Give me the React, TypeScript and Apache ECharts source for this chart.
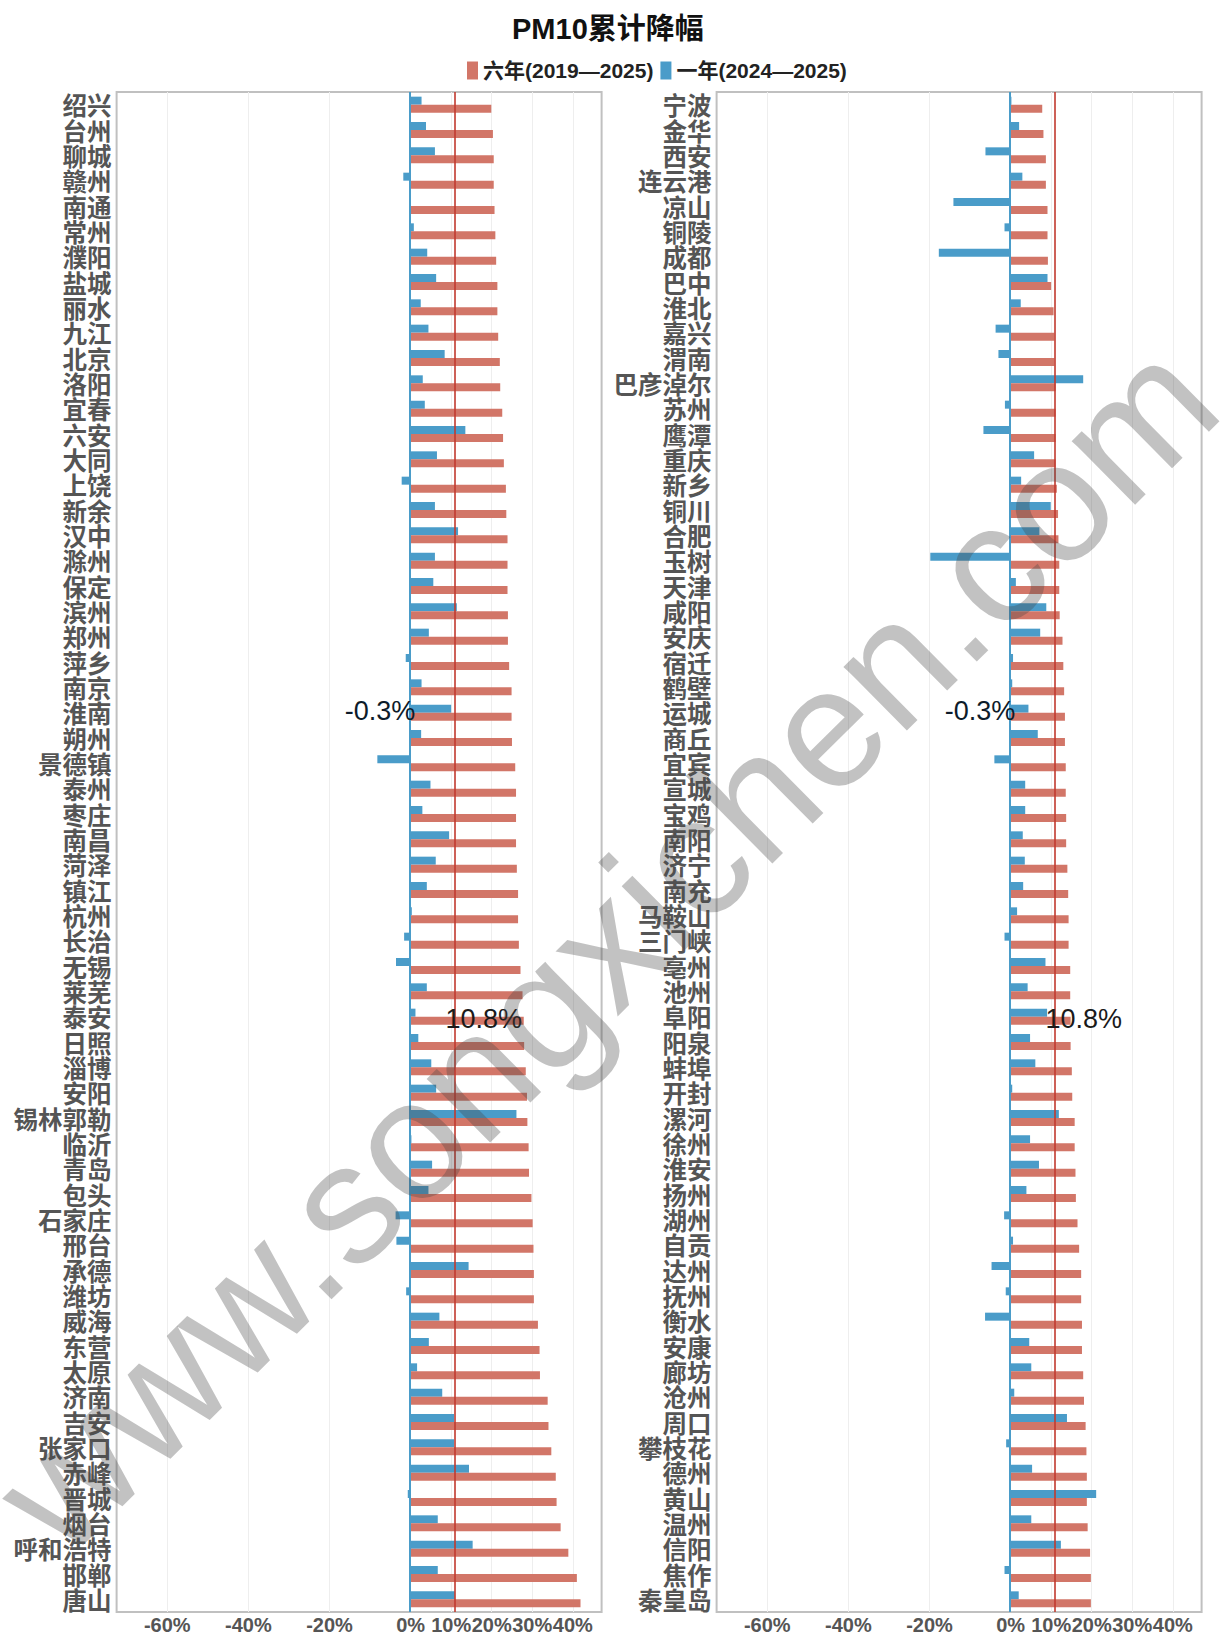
import React, { useEffect, useRef } from 'react';
import * as echarts from 'echarts';

const leftCities = ['绍兴','台州','聊城','赣州','南通','常州','濮阳','盐城','丽水','九江','北京','洛阳','宜春','六安','大同','上饶','新余','汉中','滁州','保定','滨州','郑州','萍乡','南京','淮南','朔州','景德镇','泰州','枣庄','南昌','菏泽','镇江','杭州','长治','无锡','莱芜','泰安','日照','淄博','安阳','锡林郭勒','临沂','青岛','包头','石家庄','邢台','承德','潍坊','威海','东营','太原','济南','吉安','张家口','赤峰','晋城','烟台','呼和浩特','邯郸','唐山'];
const leftSix = [19.9,20.3,20.5,20.5,20.7,20.9,21.1,21.4,21.4,21.6,22.0,22.1,22.6,22.8,23.0,23.5,23.6,23.9,23.9,23.9,24.0,24.0,24.3,24.9,24.9,25.0,25.8,26.0,26.0,26.0,26.2,26.5,26.5,26.7,27.1,27.6,27.9,28.0,28.4,28.7,28.8,29.1,29.2,29.8,30.1,30.3,30.4,30.4,31.4,31.8,31.9,33.8,34.0,34.7,35.8,36.0,37.0,38.9,41.0,41.9];
const leftOne = [2.7,3.8,6.0,-1.8,0.1,0.8,4.1,6.3,2.5,4.4,8.4,3.0,3.5,13.5,6.5,-2.2,6.0,11.7,6.0,5.6,11.4,4.5,-1.2,2.7,10.0,2.6,-8.2,4.9,2.9,9.5,6.2,4.0,0.3,-1.6,-3.6,4.0,1.2,1.9,5.1,6.3,26.1,0.2,5.3,4.4,-3.7,-3.5,14.3,-1.1,7.1,4.5,1.6,7.8,10.7,10.7,14.4,-0.7,6.7,15.3,6.7,10.9];

const rightCities = ['宁波','金华','西安','连云港','凉山','铜陵','成都','巴中','淮北','嘉兴','渭南','巴彦淖尔','苏州','鹰潭','重庆','新乡','铜川','合肥','玉树','天津','咸阳','安庆','宿迁','鹤壁','运城','商丘','宜宾','宣城','宝鸡','南阳','济宁','南充','马鞍山','三门峡','亳州','池州','阜阳','阳泉','蚌埠','开封','漯河','徐州','淮安','扬州','湖州','自贡','达州','抚州','衡水','安康','廊坊','沧州','周口','攀枝花','德州','黄山','温州','信阳','焦作','秦皇岛'];
const rightSix = [7.8,8.1,8.7,8.7,9.1,9.1,9.2,10.0,10.6,10.8,10.8,11.1,11.1,11.1,11.1,11.4,11.7,11.8,12.0,12.0,12.1,12.8,13.0,13.2,13.4,13.4,13.6,13.6,13.7,13.7,14.0,14.2,14.3,14.3,14.7,14.7,14.8,14.8,15.1,15.2,15.8,15.8,16.0,16.1,16.5,16.9,17.4,17.4,17.6,17.6,17.9,18.1,18.5,18.7,18.8,18.8,19.0,19.6,19.8,19.8];
const rightOne = [0.2,2.1,-6.2,2.9,-14.1,-1.5,-17.7,9.1,2.5,-3.7,-3.0,17.9,-1.4,-6.7,5.8,2.6,9.9,7.1,-19.8,1.3,8.8,7.3,0.6,0.4,4.4,6.7,-4.0,3.6,3.6,3.0,3.5,3.1,1.6,-1.5,8.6,4.2,9.0,4.8,6.1,0.4,11.9,4.8,7.0,3.9,-1.6,0.6,-4.7,-1.2,-6.3,4.6,5.1,0.9,13.9,-1.1,5.3,21.1,5.1,12.4,-1.5,2.0];

const xTickValues = [-60, -40, -20, 0, 10, 20, 30, 40];
const sixName = '六年(2019—2025)';
const oneName = '一年(2024—2025)';
const sixAvg = 10.8;
const oneAvg = -0.3;
const oneLabelRow = 24;
const sixLabelRow = 36;
const titleText = 'PM10累计降幅';
const watermark = 'www.songxichen.com';

const RED = '#d27668';
const BLUE = '#4a9cc9';

export default function App() {
  const ref = useRef<HTMLDivElement>(null);
  useEffect(() => {
    const chart = echarts.init(ref.current!, null, { renderer: 'svg' });
    const latin = "'Liberation Sans', 'Noto Sans CJK SC', sans-serif";
    const grids = [
      { left: 116.6, top: 92, width: 485, height: 1520 },
      { left: 716.6, top: 92, width: 485, height: 1520 },
    ].map((g) => ({ ...g, containLabel: false, outerBoundsMode: 'none', show: true, borderColor: '#c0c0c0', borderWidth: 2 }));

    const makeX = (gridIndex: number) => ({
      type: 'value', gridIndex, min: -72.5, max: 47.1,
      axisLine: { show: false },
      axisTick: { show: false, customValues: xTickValues },
      axisLabel: {
        customValues: xTickValues, formatter: (v: number) => `${v}%`,
        fontSize: 20, fontWeight: 'bold', color: '#555', fontFamily: latin, margin: 3,
        hideOverlap: false, showMinLabel: true, showMaxLabel: true,
      },
      splitLine: { show: true, lineStyle: { color: '#eeeeee', width: 1 } },
    });
    const makeY = (gridIndex: number, data: string[]) => ({
      type: 'category', gridIndex, data, inverse: true,
      axisLine: { show: false }, axisTick: { show: false },
      axisLabel: { interval: 0, fontSize: 24.5, lineHeight: 25, fontWeight: 'bold', color: '#555', fontFamily: "'Noto Sans CJK SC', sans-serif", margin: 5 },
      splitLine: { show: false },
    });

    const makeSeries = (idx: number, six: number[], one: number[]) => [
      {
        type: 'bar', name: oneName, data: one, xAxisIndex: idx, yAxisIndex: idx,
        barWidth: 8, barGap: '0%', itemStyle: { color: BLUE },
        markLine: {
          silent: true, symbol: 'none', label: { show: false },
          lineStyle: { color: BLUE, width: 2, type: 'solid' },
          data: [{ xAxis: oneAvg }],
        },
        markPoint: {
          silent: true, symbol: 'circle', symbolSize: 0,
          label: { show: true, formatter: `${oneAvg}%`, position: 'inside', align: 'right', offset: [6, 2], fontSize: 27, color: '#0d1b2a', fontFamily: latin },
          data: [{ coord: [oneAvg, oneLabelRow] }],
        },
      },
      {
        type: 'bar', name: sixName, data: six, xAxisIndex: idx, yAxisIndex: idx,
        barWidth: 8, barGap: '0%', itemStyle: { color: RED },
        markLine: {
          silent: true, symbol: 'none', label: { show: false },
          lineStyle: { color: 'rgba(192,58,46,0.8)', width: 2, type: 'solid' },
          data: [{ xAxis: sixAvg }],
        },
        markPoint: {
          silent: true, symbol: 'circle', symbolSize: 0,
          label: { show: true, formatter: `${sixAvg}%`, position: 'inside', align: 'left', offset: [-9, -2], fontSize: 27, color: '#1a1a1a', fontFamily: latin },
          data: [{ coord: [sixAvg, sixLabelRow] }],
        },
      },
    ];

    chart.setOption({
      animation: false,
      backgroundColor: '#ffffff',
      title: {
        text: titleText, left: 507, top: 9,
        textStyle: { fontSize: 29, fontWeight: 'bold', color: '#111', fontFamily: latin },
      },
      legend: {
        data: [sixName, oneName], left: 462, top: 55, itemWidth: 11, itemHeight: 18, itemGap: 7, icon: 'rect',
        textStyle: { fontSize: 21, fontWeight: 'bold', color: '#222', fontFamily: latin },
      },
      grid: grids,
      xAxis: [makeX(0), makeX(1)],
      yAxis: [makeY(0, leftCities), makeY(1, rightCities)],
      series: [...makeSeries(0, leftSix, leftOne), ...makeSeries(1, rightSix, rightOne)],
      graphic: [
        {
          type: 'text', x: 605, y: 946, rotation: 0.78, z: 100, silent: true,
          style: { text: watermark, fontSize: 170, fontFamily: "'Liberation Sans', sans-serif", fill: 'rgba(70,70,70,0.33)', align: 'center', verticalAlign: 'middle' },
        },
      ],
    });
    return () => chart.dispose();
  }, []);
  return <div ref={ref} style={{ position: 'absolute', left: 0, top: 0, width: 1224, height: 1636 }} />;
}
